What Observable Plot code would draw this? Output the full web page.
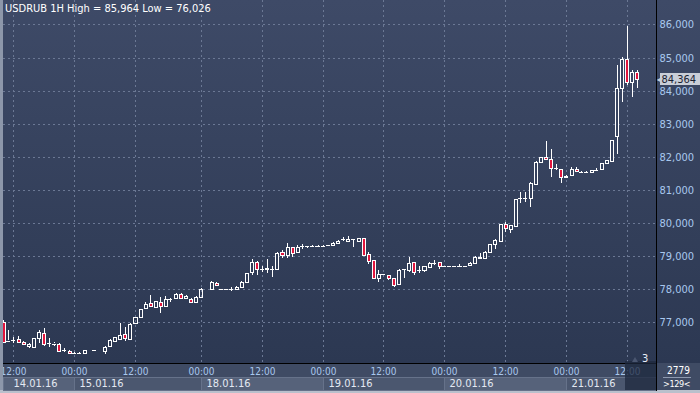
<!DOCTYPE html>
<html><head><meta charset="utf-8">
<script src="https://cdn.jsdelivr.net/npm/d3@7"></script>
<script src="https://cdn.jsdelivr.net/npm/@observablehq/plot@0.6"></script>
<style>
html,body{margin:0;padding:0;background:#3a465f;}
#wrap{position:relative;width:700px;height:393px;overflow:hidden;
  background:linear-gradient(to bottom,#3e4a67 0px,#2c3852 363px,#3f4b64 363px,#3f4b64 390px,#b9c0cc 390px);
  font-family:"Liberation Sans Narrow","Arial Narrow","DejaVu Sans Condensed",sans-serif;font-size:11px;}
#wrap svg{position:absolute;left:0;top:0;}
#wrap svg rect, #wrap svg line{shape-rendering:crispEdges;}
.ui{position:absolute;white-space:nowrap;line-height:1;}
</style></head><body><div id="wrap"></div><script>
// ---- data (hourly bars, index 0 = 14.01.16 12:00) ----
const symbol = "USDRUB";
const timeframe = "1H";
const barIndex = [-2,-1,0,1,2,3,4,5,6,7,8,9,10,11,12,13,14,16,18,19,20,21,22,23,24,25,26,27,28,29,30,31,32,33,34,35,36,37,39,40,41,42,43,44,45,46,47,48,49,50,51,52,53,54,55,56,57,58,59,60,61,62,63,64,65,66,67,68,69,70,71,72,73,74,75,76,77,78,79,80,81,82,83,84,85,86,87,88,89,90,91,92,93,94,95,96,97,98,99,100,101,102,103,104,105,106,107,108,109,110,111,112,113,114,115,116,117,118,119,120,121,122,123];
const open  = [77.01,76.46,76.45,76.48,76.40,76.28,76.25,76.51,76.66,76.35,76.36,76.33,76.16,76.13,76.07,76.07,76.07,76.15,76.13,76.27,76.42,76.50,76.64,76.49,76.96,77.14,77.41,77.58,77.46,77.60,77.48,77.68,77.72,77.85,77.72,77.71,77.60,77.75,77.99,78.19,77.99,77.99,78.00,77.99,78.05,78.22,78.50,78.83,78.60,78.60,78.60,78.60,79.12,79.03,79.26,79.11,79.30,79.30,79.31,79.31,79.31,79.33,79.32,79.40,79.50,79.46,79.50,79.46,79.53,79.06,78.88,78.32,78.44,78.42,78.32,78.15,78.58,78.58,78.82,78.58,78.56,78.65,78.80,78.81,78.70,78.70,78.70,78.70,78.70,78.72,78.78,78.98,78.93,79.11,79.36,79.46,79.96,79.81,79.91,80.73,80.74,80.74,81.18,81.85,81.98,81.92,81.65,81.62,81.38,81.45,81.63,81.55,81.54,81.53,81.61,81.62,81.80,81.88,82.63,84.07,84.95,84.27,84.57];
const high  = [77.05,76.76,76.56,76.58,76.42,76.36,76.53,76.76,76.83,76.51,76.41,76.37,76.20,76.14,76.08,76.08,76.16,76.16,76.27,76.48,76.56,76.98,76.86,76.98,77.16,77.40,77.61,77.82,77.65,77.77,77.79,77.72,77.88,77.89,77.82,77.73,77.79,78.02,78.25,78.21,78.00,78.01,78.05,78.08,78.24,78.49,78.90,78.85,78.68,78.90,78.68,79.12,79.18,79.40,79.28,79.33,79.36,79.31,79.32,79.32,79.32,79.34,79.42,79.47,79.56,79.60,79.51,79.55,79.54,79.13,78.89,78.57,78.46,78.43,78.33,78.60,78.61,78.98,78.83,78.68,78.69,78.81,78.88,78.82,78.71,78.71,78.71,78.77,78.71,78.81,79.00,79.08,79.14,79.37,79.50,79.97,80.04,79.95,80.72,80.94,80.94,81.23,81.86,81.99,82.48,82.22,81.78,81.63,81.44,81.70,81.70,81.56,81.58,81.60,81.65,81.81,81.91,82.52,84.78,85.03,85.964,84.62,84.62];
const low   = [76.36,76.41,76.36,76.38,76.32,76.20,76.24,76.36,76.28,76.25,76.28,76.10,76.10,76.06,76.03,76.026,76.06,76.14,76.03,76.25,76.40,76.46,76.44,76.46,76.95,77.11,77.38,77.46,77.44,77.28,77.46,77.62,77.70,77.70,77.70,77.58,77.58,77.73,77.97,78.10,77.97,77.97,77.94,77.98,78.04,78.20,78.42,78.42,78.52,78.47,78.37,78.58,78.93,78.93,78.96,79.09,79.20,79.23,79.30,79.30,79.30,79.32,79.31,79.39,79.46,79.45,79.28,79.45,79.02,78.76,78.30,78.22,78.42,78.27,78.07,78.14,78.32,78.52,78.42,78.48,78.51,78.64,78.73,78.60,78.69,78.69,78.69,78.65,78.69,78.71,78.77,78.92,78.92,79.10,79.22,79.45,79.73,79.70,79.90,80.59,80.64,80.47,81.17,81.84,81.91,81.40,81.60,81.20,81.37,81.44,81.56,81.54,81.50,81.52,81.56,81.61,81.79,81.87,82.07,83.67,84.17,83.82,84.07];
const close = [76.39,76.44,76.46,76.40,76.33,76.35,76.51,76.69,76.34,76.36,76.35,76.12,76.15,76.07,76.07,76.07,76.15,76.15,76.25,76.46,76.54,76.61,76.51,76.94,77.14,77.38,77.56,77.48,77.63,77.48,77.69,77.69,77.85,77.72,77.80,77.60,77.77,78.00,78.22,78.11,77.99,77.99,78.00,78.07,78.22,78.47,78.83,78.60,78.60,78.62,78.60,79.10,79.03,79.26,79.10,79.28,79.30,79.30,79.31,79.31,79.31,79.33,79.40,79.46,79.50,79.52,79.50,79.53,79.04,78.86,78.32,78.45,78.44,78.32,78.12,78.58,78.60,78.80,78.52,78.58,78.68,78.80,78.80,78.68,78.70,78.70,78.70,78.70,78.70,78.80,78.98,78.93,79.13,79.36,79.48,79.96,79.84,79.94,80.71,80.74,80.75,81.22,81.85,81.98,81.92,81.65,81.65,81.38,81.43,81.63,81.57,81.55,81.54,81.59,81.61,81.80,81.90,82.51,84.07,84.95,84.27,84.57,84.364];

const yTicks = [77,78,79,80,81,82,83,84,85,86];
const timeTickIdx = [0,12,24,37,49,61,73,85,97,109,121];
const timeTickLabels = ["12:00","00:00","12:00","00:00","12:00","00:00","12:00","00:00","12:00","00:00","12:00"];
const dayLabels = ["14.01.16","15.01.16","18.01.16","19.01.16","20.01.16","21.01.16"];
const dayStartIdx = [-2,12,37,61,85,109];
const barsOnScreen = 129;
const infoValue = "2779";
const shiftLabel = "3";

// ---- layout ----
const W = 700, H = 393, mL = 3, mR = 44, mT = 0, mB = 30;
const xDomain = [-2.03, 126.76];
const yDomain = [75.761, 86.741];
const RED = "#e2153d";
const AXIS_BLUE = "#a9c8ee";
const fmt = v => v.toFixed(3).replace(".", ",");

const bars = barIndex.map((i, k) => ({i, o: open[k], h: high[k], l: low[k], c: close[k]}));
const bodies = bars.filter(d => Math.abs(d.o - d.c) >= 0.02);
const dojis = bars.filter(d => Math.abs(d.o - d.c) < 0.02);
const days = dayLabels.map((label, k) => ({
  label, k,
  start: Math.max(dayStartIdx[k], xDomain[0]),
  end: k + 1 < dayStartIdx.length ? dayStartIdx[k + 1] : xDomain[1]
}));
const last = bars[bars.length - 1];
const hi = d3.max(high), lo = d3.min(low);

const chart = Plot.plot({
  width: W, height: H,
  marginLeft: mL, marginRight: mR, marginTop: mT, marginBottom: mB,
  x: {domain: xDomain, axis: null, round: true},
  y: {domain: yDomain, axis: null, round: true},
  style: {background: "transparent", fontFamily: "'Liberation Sans Narrow','Arial Narrow','DejaVu Sans Condensed',sans-serif", fontSize: "11px", overflow: "visible"},
  marks: [
    // date row boxes under the time axis
    Plot.rect(days, {x1: "start", x2: "end", y1: yDomain[0], y2: yDomain[0], insetTop: 14, insetBottom: -27,
      fill: d => d.k % 2 ? "#4b576f" : "#56627a", stroke: "#66728a", strokeWidth: 1}),
    // grid
    Plot.ruleY(yTicks, {stroke: "#6b7894", strokeDasharray: "2,3", strokeWidth: 1}),
    Plot.ruleX(timeTickIdx, {stroke: "#6b7894", strokeDasharray: "2,3", strokeWidth: 1}),
    // wicks
    Plot.ruleX(bars, {x: "i", y1: "h", y2: d => Math.max(d.o, d.c), stroke: "#ffffff"}),
    Plot.ruleX(bars, {x: "i", y1: d => Math.min(d.o, d.c), y2: "l", stroke: "#ffffff"}),
    // bodies
    Plot.rect(bodies, {x1: d => d.i - 0.3, x2: d => d.i + 0.3, y1: "o", y2: "c",
      fill: d => d.c < d.o ? RED : "none", stroke: "#ffffff", strokeWidth: 1}),
    Plot.ruleY(dojis, {y: "c", x1: d => d.i - 0.4, x2: d => d.i + 0.4, stroke: "#ffffff"}),
    // frame lines
    Plot.ruleY([yDomain[0]], {stroke: "#000000"}),
    Plot.ruleX([xDomain[1]], {stroke: "#000000", insetBottom: -28}),
    // y tick labels
    Plot.text(yTicks, {x: xDomain[1], y: d => d, text: fmt, textAnchor: "start", dx: 3, fill: AXIS_BLUE}),
    // current price tag
    Plot.rect([last], {x1: xDomain[1], x2: xDomain[1], y1: "c", y2: "c", insetLeft: 4, insetRight: -44, insetTop: -6, insetBottom: -6, fill: "#c9ced7"}),
    Plot.text([last], {x: xDomain[1], y: "c", text: () => "◀", dx: 3, fill: "#c9ced7", fontSize: 8}),
    Plot.text([last], {x: xDomain[1], y: "c", text: d => fmt(d.c), textAnchor: "start", dx: 5, fill: "#1b2233"}),
    // time labels
    Plot.text(timeTickIdx, {x: d => d, y: yDomain[0], text: (d, k) => timeTickLabels[k], dy: 8, fill: AXIS_BLUE, fontSize: 10}),
    // day labels
    Plot.text(days.slice(0, 1), {x: "start", y: yDomain[0], text: "label", textAnchor: "start", dx: 10, dy: 20, fill: "#e4e9f2"}),
    Plot.text(days.slice(1), {x: "start", y: yDomain[0], text: "label", textAnchor: "start", dx: 5, dy: 20, fill: "#e4e9f2"})
  ]
});
const wrap = document.getElementById("wrap");
wrap.appendChild(chart);

// UI chrome
function ui(html, css) { const d = document.createElement("div"); d.className = "ui"; d.innerHTML = html; Object.assign(d.style, css); wrap.appendChild(d); return d; }
ui("", {left: "0px", top: "0px", width: "3px", height: "390px", background: "#8d97aa"});
ui(`${symbol} ${timeframe} High = ${fmt(hi)} Low = ${fmt(lo)}`, {left: "5px", top: "3px", color: "#ffffff"});
ui("", {left: "625px", top: "361px", width: "31px", height: "29px", background: "rgba(30,40,62,0.75)"});
ui("", {left: "632px", top: "357px", width: "0", height: "0", borderLeft: "3px solid transparent", borderRight: "3px solid transparent", borderBottom: "5px solid #4a5670"});
ui(shiftLabel, {left: "642px", top: "353px", color: "#e8eef8"});
ui(infoValue, {left: "667px", top: "366px", color: "#ffffff", fontSize: "10px"});
ui("", {left: "663px", top: "377px", width: "28px", height: "1px", background: "#8e9ab0"});
ui(`&gt;${barsOnScreen}&lt;`, {left: "663px", top: "380px", color: "#ffffff", fontSize: "9px", letterSpacing: "-0.4px"});
</script></body></html>
